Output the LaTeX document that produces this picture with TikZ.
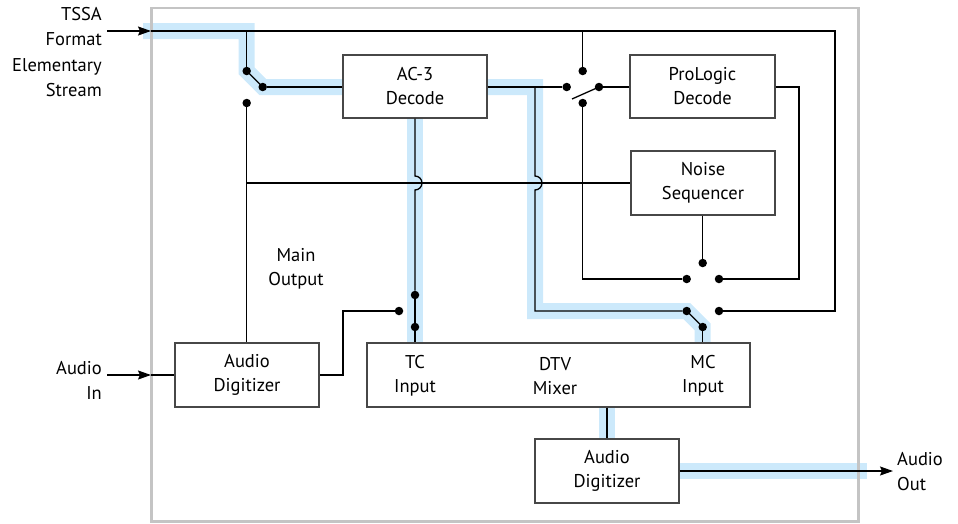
\documentclass[tikz,border=0pt]{standalone}
\usepackage{fontspec}
\setmainfont{PT Sans}
\usetikzlibrary{arrows.meta,backgrounds}
\definecolor{hlblue}{RGB}{204,233,251}
\definecolor{framegray}{RGB}{196,196,196}
\begin{document}
\begin{tikzpicture}[x=1pt,y=-1pt,
  box/.style={draw=black!72, line width=1.4pt, fill=white, align=center, inner sep=0pt,
    font=\fontsize{18.5}{24}\selectfont},
  wire/.style={black, line width=1.3pt},
  hl/.style={draw=hlblue, line width=16pt, line join=miter, line cap=butt},
  dotn/.style={circle, fill=black, inner sep=0pt, minimum size=8.5pt},
  lbl/.style={align=center, inner sep=0pt, font=\fontsize{18.5}{24}\selectfont},
  arr/.style={wire, -{Stealth[length=13pt,width=9pt,inset=2pt]}}]
\useasboundingbox (0,0) rectangle (958,523);

% boxes
\node[box, minimum width=144pt, minimum height=63pt] (ac3) at (415,86.5) {AC-3\\Decode};
\node[box, minimum width=145pt, minimum height=63pt] (pro) at (702.5,86.5) {ProLogic\\Decode};
\node[box, minimum width=144pt, minimum height=64pt] (noise) at (703,183) {Noise\\Sequencer};
\node[box, minimum width=144pt, minimum height=64pt] (ad1) at (247,375) {Audio\\Digitizer};
\node[box, minimum width=383pt, minimum height=64pt] (dtv) at (558.5,375) {};
\node[box, minimum width=144pt, minimum height=64pt] (ad2) at (607,471) {Audio\\Digitizer};

\node[lbl] (tc) at (415,376) {TC\\Input};
\node[lbl] (dtvt) at (555,376) {DTV\\Mixer};
\node[lbl] (mc) at (703,376) {MC\\Input};
\node[lbl] (mainout) at (296,268.5) {Main\\Output};
\node[lbl, align=right, anchor=east, font=\fontsize{18.5}{25.3}\selectfont] (tssa) at (102,52) {TSSA\\Format\\Elementary\\Stream};
\node[lbl, align=right, anchor=east, font=\fontsize{18.5}{25}\selectfont] (ain) at (102,380) {Audio\\In};
\node[lbl, align=left, anchor=west, font=\fontsize{18.5}{25}\selectfont] (aout) at (897,472) {Audio\\Out};

% coordinates
\coordinate (tstart) at (107,31);
\coordinate (tentry) at (151,31);
\coordinate (tj1) at (246.7,31);
\coordinate (tj2) at (582.7,31);
\coordinate (tcorner) at (835,31);
\coordinate (j535) at (535,87);
\coordinate (k535) at (535,311);
\coordinate (hstart) at (246.7,183);
\coordinate (pcorner) at (799,87);
\coordinate (ccorner) at (582.7,279);
\coordinate (ecorner) at (343,311);
\coordinate (ainstart) at (107,375);
\coordinate (ainentry) at (151,375);
\coordinate (aoutend) at (893,471);
\coordinate (hlstart) at (143,31);
\coordinate (hlend) at (867,471);

% dots
\node[dotn] (a1) at (246.7,71) {};
\node[dotn] (a2) at (262.7,87) {};
\node[dotn] (a3) at (246.7,103) {};
\node[dotn] (b0) at (582.7,71) {};
\node[dotn] (b1) at (566.7,87) {};
\node[dotn] (b2) at (599,87) {};
\node[dotn] (b3) at (582.7,103) {};
\coordinate (blev) at (572,99);
\node[dotn] (c0) at (702.7,263) {};
\node[dotn] (c1) at (686.7,279) {};
\node[dotn] (c2) at (719,279) {};
\node[dotn] (d1) at (686.7,311) {};
\node[dotn] (d2) at (719,311) {};
\node[dotn] (d3) at (702.7,327) {};
\node[dotn] (e1) at (415,295) {};
\node[dotn] (e2) at (399,311) {};
\node[dotn] (e3) at (415,327) {};

% blue highlight
\begin{scope}[on background layer]
  \draw[hl] (hlstart) -- (tj1) -- (a1.center) -- (a2.center) -- (a2.center -| ac3.west);
  \draw[hl] (ac3.east |- j535) -- (j535) -- (k535) -- (d1.center) -- (d3.center) -- (d3.center |- dtv.north);
  \draw[hl] (ac3.south) -- (tc.center |- dtv.north);
  \draw[hl] (ad2.north |- dtv.south) -- (ad2.north);
  \draw[hl] (ad2.east) -- (hlend);
\end{scope}

% frame
\draw[framegray, line width=2.2pt] (151.5,8) rectangle (858.5,521.5);

% wires
\draw[arr] (tstart) -- (tentry);
\draw[wire] (tentry) -- (tcorner) |- (d2);
\draw[wire] (tj1) -- (a1);
\draw[wire] (a1.center) -- (a2.center);
\draw[wire] (a2) -- (a2 -| ac3.west);
\draw[wire] (a3) -- (a3 |- ad1.north);
\draw[wire] (hstart) -- (hstart -| noise.west);
% AC-3 right to switch and down with jump
\draw[wire] (ac3.east |- b1) -- (b1);
\draw[wire] (j535) -- (535,176) arc[start angle=90, end angle=-90, radius=7pt] -- (k535) -- (d1);
\draw[wire] (d1.center) -- (d3.center);
\draw[wire] (d3) -- (d3 |- dtv.north);
% switch 2
\draw[wire] (tj2) -- (b0);
\draw[wire] (b2) -- (pro.west |- b2);
\draw[wire] (blev) -- (b2.center);
\draw[wire] (b3) -- (ccorner) -- (c1);
\draw[wire] (pro.east |- pcorner) -- (pcorner) |- (c2);
\draw[wire] (noise.south -| c0) -- (c0);
% TC line with jump
\draw[wire] (ac3.south) -- (415,176) arc[start angle=90, end angle=-90, radius=7pt] -- (e1);
\draw[wire] (e1) -- (e3);
\draw[wire] (e3) -- (e3 |- dtv.north);
\draw[wire] (e2) -- (ecorner) |- (ad1.east);
% audio in / out
\draw[arr] (ainstart) -- (ainentry);
\draw[wire] (ainentry) -- (ad1.west);
\draw[wire] (ad2.north |- dtv.south) -- (ad2.north);
\draw[arr] (ad2.east) -- (aoutend);
\end{tikzpicture}
\end{document}
